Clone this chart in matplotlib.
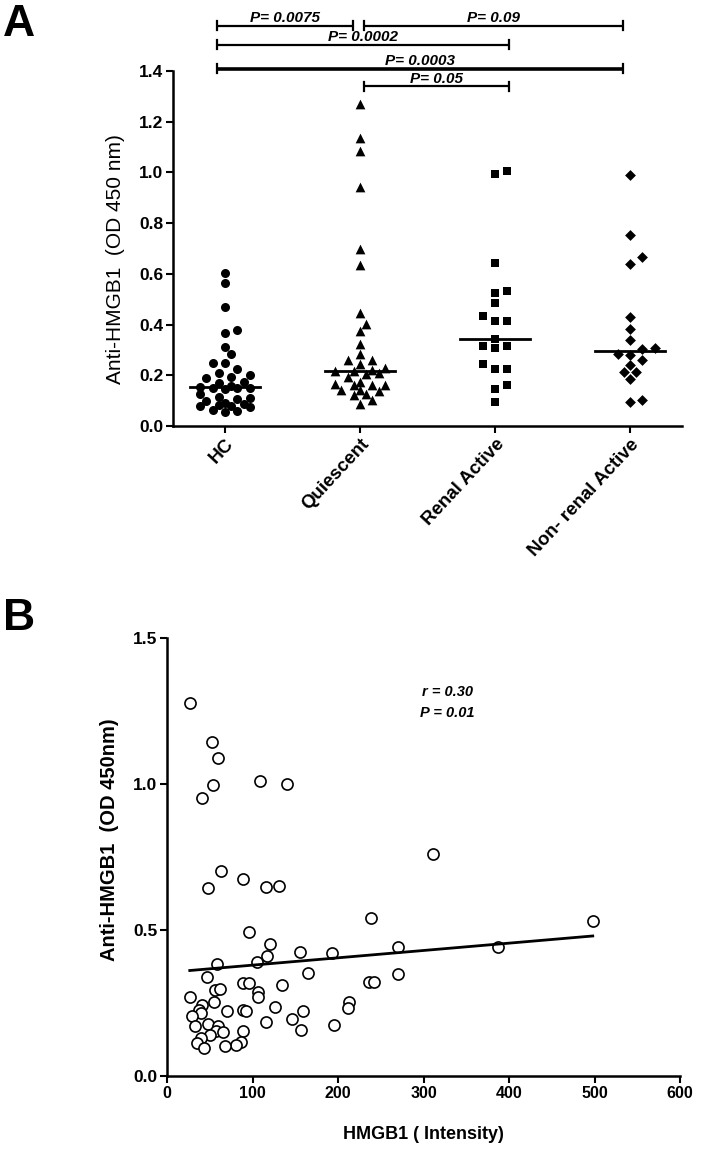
import matplotlib
matplotlib.use("Agg")

import matplotlib.pyplot as plt
import numpy as np

plt.rcParams["font.family"] = ["Liberation Sans", "DejaVu Sans"]

# ---- panel A data ----
groups = ["HC", "Quiescent", "Renal Active", "Non- renal Active"]
hc = [0.605, 0.564, 0.470, 0.380, 0.366, 0.312, 0.282, 0.250, 0.250, 0.224,
      0.207, 0.200, 0.195, 0.189, 0.175, 0.170, 0.158, 0.155, 0.150, 0.150,
      0.148, 0.145, 0.125, 0.115, 0.110, 0.105, 0.100, 0.092, 0.088, 0.082,
      0.080, 0.078, 0.075, 0.062, 0.058, 0.055]
quiescent = [1.271, 1.137, 1.084, 0.943, 0.696, 0.634, 0.446, 0.404, 0.375, 0.325,
             0.283, 0.262, 0.259, 0.246, 0.229, 0.220, 0.217, 0.217, 0.209, 0.206,
             0.193, 0.174, 0.167, 0.161, 0.161, 0.161, 0.143, 0.141, 0.138, 0.127,
             0.121, 0.101, 0.086]
renal = [1.005, 0.995, 0.644, 0.534, 0.526, 0.486, 0.434, 0.414, 0.413, 0.344,
         0.314, 0.314, 0.308, 0.245, 0.226, 0.226, 0.163, 0.145, 0.095]
nonrenal = [0.991, 0.755, 0.665, 0.640, 0.431, 0.381, 0.340, 0.309, 0.305, 0.285,
            0.281, 0.262, 0.239, 0.213, 0.213, 0.184, 0.104, 0.095]
group_values = [hc, quiescent, renal, nonrenal]
group_markers = ["o", "^", "s", "D"]
group_msize = [6.5, 7.0, 6.0, 5.5]

bracket_labels = ["P= 0.0075", "P= 0.09", "P= 0.0002", "P= 0.0003", "P= 0.05"]
bracket_from = [0, 1, 0, 0, 1]
bracket_to = [1, 3, 2, 3, 2]
bracket_y = [1.579, 1.579, 1.504, 1.409, 1.339]

# ---- panel B data ----
hmgb1_x = [26.6, 52.4, 60.2, 53.9, 108.7, 139.9, 41.0, 62.9, 48.4, 88.3,
           115.7, 130.5, 96.1, 120.8, 116.4, 155.5, 105.2, 59.0, 164.5, 47.0,
           311.0, 238.0, 497.9, 192.8, 270.4, 387.3, 270.4, 236.8, 241.5, 213.4,
           212.2, 158.6, 195.8, 156.2, 26.6, 88.3, 95.3, 56.3, 62.1, 106.3,
           106.3, 134.5, 55.1, 40.7, 37.5, 39.5, 29.0, 70.0, 89.4, 92.3,
           126.6, 115.7, 145.7, 32.8, 48.4, 60.1, 57.8, 66.0, 89.4, 50.0,
           39.5, 35.5, 43.4, 86.4, 81.2, 68.0]
anti_y = [1.278, 1.143, 1.089, 0.997, 1.010, 1.000, 0.951, 0.702, 0.643, 0.674,
          0.648, 0.651, 0.492, 0.453, 0.412, 0.423, 0.391, 0.385, 0.354, 0.338,
          0.760, 0.542, 0.532, 0.421, 0.441, 0.443, 0.349, 0.323, 0.323, 0.255,
          0.234, 0.224, 0.175, 0.158, 0.272, 0.317, 0.317, 0.295, 0.297, 0.289,
          0.272, 0.312, 0.255, 0.243, 0.226, 0.215, 0.205, 0.223, 0.226, 0.224,
          0.235, 0.186, 0.195, 0.171, 0.177, 0.171, 0.154, 0.150, 0.154, 0.140,
          0.129, 0.114, 0.097, 0.118, 0.106, 0.104]
fit_slope = 0.000251
fit_intercept = 0.3545
stats_text = ["r = 0.30", "P = 0.01"]


def swarm_offsets(vals, px_x, px_y, step_px=6.2, diam_px=9.0, max_k=4):
    # quantised beeswarm (GraphPad-like), width capped at +-max_k steps
    vals = np.asarray(vals)
    order = np.argsort(vals)
    placed = []
    ks = np.zeros(len(vals))
    tries = [0]
    for k in range(1, max_k + 1):
        tries += [k, -k]
    for idx in order:
        ypx = vals[idx] * px_y
        best_k, best_d = 0, -1.0
        for k in tries:
            dmin = min([np.hypot((k - kk) * step_px, ypx - yy) for kk, yy in placed]
                       or [1e9])
            if dmin >= diam_px:
                best_k = k
                break
            if dmin > best_d + 0.5:
                best_k, best_d = k, dmin
        placed.append((best_k, ypx))
        ks[idx] = best_k
    return ks * step_px / px_x


fig = plt.figure(figsize=(7.15, 11.67), dpi=100)

# ================= panel A =================
axA = fig.add_axes([0.2420, 0.6350, 0.7119, 0.3042])
axA.set_xlim(-0.385, 3.385)
axA.set_ylim(0, 1.4)
bb = axA.get_window_extent()
px_x = bb.width / (3.385 + 0.385)
px_y = bb.height / 1.4

for i, (vals, mk, ms) in enumerate(zip(group_values, group_markers, group_msize)):
    offs = swarm_offsets(vals, px_x, px_y)
    axA.scatter(i + offs, vals, marker=mk, s=ms ** 2, color="black",
                linewidths=0, zorder=3, clip_on=False)
    med = np.median(vals)
    axA.plot([i - 0.26, i + 0.26], [med, med], color="black", lw=2.0, zorder=4)

for lab, a, b, y in zip(bracket_labels, bracket_from, bracket_to, bracket_y):
    x0 = a - 0.06 if a == 0 else a + 0.03
    x1 = b + 0.1 if b == 2 else b - 0.05
    lw = 2.6 if (a == 0 and b == 3) else 1.6
    axA.plot([x0, x1], [y, y], color="black", lw=lw, clip_on=False,
             solid_capstyle="butt")
    for xe in (x0, x1):
        axA.plot([xe, xe], [y - 0.018, y + 0.018], color="black", lw=1.6,
                 clip_on=False)
    axA.text((x0 + x1) / 2, y + 0.003, lab, ha="center", va="bottom",
             fontsize=11, fontweight="bold", fontstyle="italic", clip_on=False)

axA.set_xticks(range(len(groups)))
axA.set_xticklabels(groups, rotation=47, ha="right", rotation_mode="anchor",
                    fontsize=13.5, fontweight="bold")
axA.set_yticks(np.arange(0, 1.41, 0.2))
axA.set_yticklabels([f"{v:.1f}" for v in np.arange(0, 1.41, 0.2)],
                    fontsize=12.5, fontweight="bold")
axA.set_ylabel("Anti-HMGB1  (OD 450 nm)", fontsize=15, labelpad=10)
axA.yaxis.label.set_y(0.47)
axA.spines["top"].set_visible(False)
axA.spines["right"].set_visible(False)
for s in ("left", "bottom"):
    axA.spines[s].set_linewidth(1.8)
axA.tick_params(direction="out", length=5, width=1.5, pad=2)

# ================= panel B =================
axB = fig.add_axes([0.2336, 0.0780, 0.7175, 0.3753])
axB.scatter(hmgb1_x, anti_y, s=64, facecolors="white", edgecolors="black",
            linewidths=1.2, zorder=3, clip_on=False)
fx = np.array([min(hmgb1_x), max(hmgb1_x)])
axB.plot(fx, fit_intercept + fit_slope * fx, color="black", lw=2.0, zorder=4)
axB.text(328, 1.315, stats_text[0], ha="center", va="center", fontsize=10.5,
         fontweight="bold", fontstyle="italic")
axB.text(328, 1.243, stats_text[1], ha="center", va="center", fontsize=10.5,
         fontweight="bold", fontstyle="italic")

axB.set_xlim(0, 600)
axB.set_ylim(0, 1.5)
axB.set_xticks(range(0, 601, 100))
axB.set_xticklabels([str(v) for v in range(0, 601, 100)], fontsize=11.5,
                    fontweight="bold")
axB.set_yticks([0, 0.5, 1.0, 1.5])
axB.set_yticklabels(["0.0", "0.5", "1.0", "1.5"], fontsize=12.5, fontweight="bold")
axB.set_xlabel("HMGB1 ( Intensity)", fontsize=13, fontweight="bold", labelpad=18)
axB.set_ylabel("Anti-HMGB1  (OD 450nm)", fontsize=14.5, fontweight="bold",
               labelpad=10)
axB.yaxis.label.set_y(0.54)
axB.spines["top"].set_visible(False)
axB.spines["right"].set_visible(False)
for s in ("left", "bottom"):
    axB.spines[s].set_linewidth(1.8)
axB.tick_params(direction="out", length=5, width=1.5, pad=2)

# panel letters
fig.text(0.004, 0.997, "A", ha="left", va="top", fontsize=32, fontweight="bold")
fig.text(0.004, 0.488, "B", ha="left", va="top", fontsize=32, fontweight="bold")

fig.savefig("out.png", dpi=100)
plt.close(fig)
